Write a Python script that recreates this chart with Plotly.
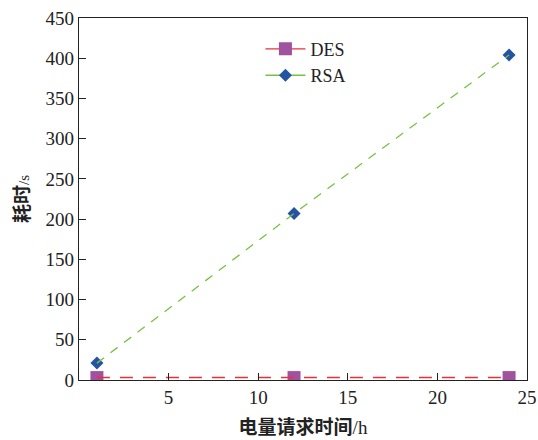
import plotly.graph_objects as go

x_vals = [1, 12, 24]
des_vals = [3, 3, 3]
rsa_vals = [21, 207, 404]
x_ticks = [5, 10, 15, 20, 25]
y_ticks = [0, 50, 100, 150, 200, 250, 300, 350, 400, 450]

des_line = "#e8303a"
rsa_line = "#78c142"
des_mark = "#a0529e"
rsa_mark = "#2453a2"

fig = go.Figure()
# markers (drawn first, lines cross over them)
fig.add_trace(go.Scatter(x=x_vals, y=des_vals, mode="markers", showlegend=False,
                         marker=dict(symbol="square", size=13, color=des_mark)))
fig.add_trace(go.Scatter(x=x_vals, y=rsa_vals, mode="markers", showlegend=False,
                         marker=dict(symbol="diamond", size=10, color=rsa_mark)))
# dashed lines on top
fig.add_trace(go.Scatter(x=x_vals, y=des_vals, mode="lines", showlegend=False,
                         line=dict(color=des_line, width=1.5, dash="13px,10px")))
fig.add_trace(go.Scatter(x=x_vals, y=rsa_vals, mode="lines", showlegend=False,
                         line=dict(color=rsa_line, width=1.3, dash="9px,8px")))
# legend entries (solid line with marker)
fig.add_trace(go.Scatter(x=[None], y=[None], mode="lines+markers", name="DES",
                         line=dict(color=des_line, width=1.4),
                         marker=dict(symbol="square", size=13, color=des_mark)))
fig.add_trace(go.Scatter(x=[None], y=[None], mode="lines+markers", name="RSA",
                         line=dict(color=rsa_line, width=1.3),
                         marker=dict(symbol="diamond", size=10, color=rsa_mark)))

serif = "Liberation Serif, Times New Roman, serif"
fig.update_layout(
    width=538, height=440,
    margin=dict(l=79, r=11, t=18, b=60),
    paper_bgcolor="white", plot_bgcolor="white",
    font=dict(family=serif, size=19, color="#222"),
    showlegend=True,
    legend=dict(x=0.405, y=0.965, xanchor="left", yanchor="top",
                bgcolor="rgba(0,0,0,0)", font=dict(size=18, family=serif, color="#222"),
                itemwidth=40, tracegroupgap=0),
    xaxis=dict(range=[0, 25], tickvals=x_ticks, ticks="inside", ticklen=7, tickwidth=1.2,
               tickcolor="#222", showline=True, linecolor="#222", linewidth=1.2, mirror=True,
               showgrid=False, zeroline=False, automargin=False,
               tickfont=dict(size=19, family=serif, color="#222"),
               title=dict(text="<b style='font-family:Noto Sans CJK SC'>电量请求时间</b>/h",
                          font=dict(size=19, family=serif, color="#222"), standoff=13)),
    yaxis=dict(range=[0, 450], tickvals=y_ticks, ticks="inside", ticklen=7, tickwidth=1.2,
               tickcolor="#222", showline=True, linecolor="#222", linewidth=1.2, mirror=True,
               showgrid=False, zeroline=False, automargin=False,
               tickfont=dict(size=19, family=serif, color="#222"),
               title=dict(text="<b style='font-family:Noto Sans CJK SC'>耗时</b><span style='font-size:15px'>/s</span>",
                          font=dict(size=19, family=serif, color="#222"), standoff=10)),
)

fig.write_html("out.html")
